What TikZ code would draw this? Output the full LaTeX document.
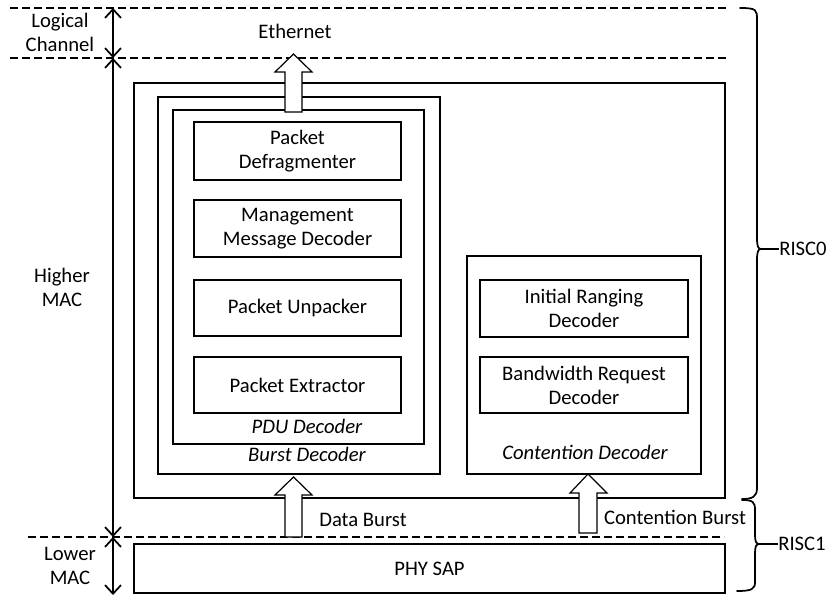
\documentclass[tikz,border=0pt]{standalone}
\usepackage{fontspec}
\setmainfont{Carlito}
\usetikzlibrary{arrows.meta,fit}
\begin{document}
\begin{tikzpicture}[x=0.75pt,y=-0.75pt,
  box/.style={draw, line width=0.9pt, inner sep=0pt},
  txt/.style={font=\fontsize{15.5}{18}\selectfont, align=center, inner sep=0pt},
  itxt/.style={txt, font=\fontsize{15.5}{18}\selectfont\itshape},
  dashline/.style={dash pattern=on 6pt off 3pt, line width=1.3pt},
  dimarrow/.style={line width=1.3pt, {Straight Barb[length=6.5pt,width=12pt]}-{Straight Barb[length=6.5pt,width=12pt]}},
  blockarrow/.style={draw, fill=white, line width=0.9pt, line join=miter},
  brc/.style={line width=1.3pt, line cap=round}
]
\useasboundingbox (0,0) rectangle (830,596);

% dashed layer lines
\coordinate (d1a) at (10,8);   \coordinate (d1b) at (726,8);
\coordinate (d2a) at (10,58);  \coordinate (d2b) at (726,58);
\coordinate (d3a) at (28,537); \coordinate (d3b) at (724,537);
\draw[dashline] (d1a) -- (d1b);
\draw[dashline] (d2a) -- (d2b);
\draw[dashline] (d3a) -- (d3b);

% left dimension arrows
\coordinate (v0) at (113,8);
\coordinate (v1) at (113,58);
\coordinate (v2) at (113,537);
\coordinate (v3) at (113,595);
\draw[dimarrow] (v0) -- (v1);
\draw[dimarrow] (v1) -- (v2);
\draw[dimarrow] (v2) -- (v3);

\node[txt] (lc) at (60,32) {Logical\\Channel};
\node[txt] (hm) at (62,287) {Higher\\MAC};
\node[txt] (lm) at (70,566) {Lower\\MAC};
\node[txt] (eth) at (295,31) {Ethernet};

% boxes
\node[box, fit={(134,83) (725,498)}] (risc0) {};
\node[box, fit={(158,97) (440,474)}] (burst) {};
\node[box, fit={(173,110) (424,444)}] (pdu) {};
\node[box, fit={(194,122) (401,180)}] (defrag) {};
\node[box, fit={(194,200) (401,257)}] (mgmt) {};
\node[box, fit={(194,280) (401,336)}] (unpack) {};
\node[box, fit={(194,357) (401,413)}] (extract) {};
\node[txt] (defragt) at (defrag.center) {Packet\\Defragmenter};
\node[txt] (mgmtt) at (mgmt.center) {Management\\Message Decoder};
\node[txt] (unpackt) at (unpack.center) {Packet Unpacker};
\node[txt] (extractt) at (extract.center) {Packet Extractor};
\node[itxt] (pdul) at (307,426) {PDU Decoder};
\node[itxt] (burstl) at (307,454) {Burst Decoder};

\node[box, fit={(467,256) (701,474)}] (cont) {};
\node[box, fit={(480,280) (688,337)}] (ranging) {};
\node[box, fit={(480,357) (688,413)}] (bwreq) {};
\node[txt] (rangingt) at (ranging.center) {Initial Ranging\\Decoder};
\node[txt] (bwreqt) at (bwreq.center) {Bandwidth Request\\Decoder};
\node[itxt] (contl) at (585,452) {Contention Decoder};

\node[box, fit={(134,544) (725,593)}] (phy) {};
\node[txt] (phyt) at (phy.center) {PHY SAP};

% block arrows
\draw[blockarrow] (285,112) -- (285,72) -- (275,72) -- (293.5,54) -- (312,72) -- (302,72) -- (302,112) -- cycle;
\draw[blockarrow] (285,537) -- (285,495) -- (275,495) -- (293.5,477) -- (312,495) -- (302,495) -- (302,537) -- cycle;
\draw[blockarrow] (579,533) -- (579,493) -- (570,493) -- (588,474) -- (607,493) -- (597,493) -- (597,533) -- cycle;

\node[txt] (dbl) at (363,520) {Data Burst};
\node[txt] (cbl) at (675,517) {Contention Burst};

% braces
\coordinate (b0tip) at (761,249);
\coordinate (b1tip) at (759,544);
\draw[brc] (740,8) .. controls (757,8) and (757,10) .. (757,20) -- (757,238)
  .. controls (757,246) and (758,249) .. (b0tip)
  .. controls (758,249) and (757,252) .. (757,260) -- (757,488)
  .. controls (757,497) and (752,499) .. (742,499);
\draw[brc] (742,500) .. controls (753,500) and (755,502) .. (755,510) -- (755,535)
  .. controls (755,541) and (756,544) .. (b1tip)
  .. controls (756,544) and (755,547) .. (755,553) -- (755,582)
  .. controls (755,589) and (752,591) .. (737,591);
\node[txt, anchor=west] (r0) at (779,249) {RISC0};
\node[txt, anchor=west] (r1) at (778,544) {RISC1};
\draw[line width=1.3pt] (b0tip) -- (r0.west);
\draw[line width=1.3pt] (b1tip) -- (r1.west);
\end{tikzpicture}
\end{document}
